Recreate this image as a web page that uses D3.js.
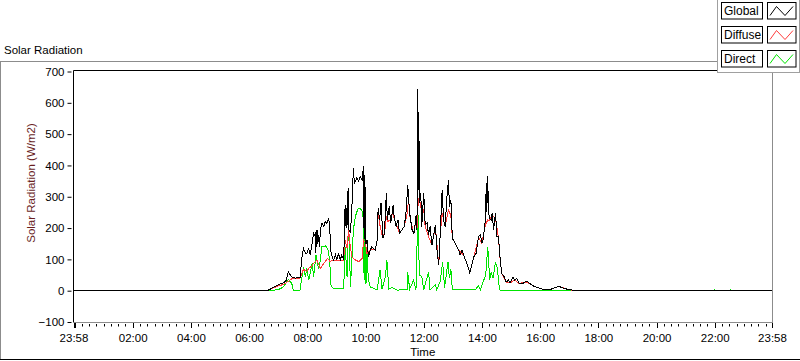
<!DOCTYPE html>
<html>
<head>
<meta charset="utf-8">
<script src="https://cdn.jsdelivr.net/npm/d3@7"></script>
<style>
  html, body { margin: 0; padding: 0; background: #fff; }
  svg { display: block; }
  text { font-family: "Liberation Sans", Arial, sans-serif; }
</style>
</head>
<body>
<svg id="chart" width="800" height="361"></svg>
<script>
// ---- Data (time in minutes since midnight, value in W/m2) ----
const globalTime = [-2,397,405,412,420,425,431,436,441,444,448,455,460,465,469,472,476,479,483,486,490,493,496,497,498,499,500,501,503,505,507,510,514,517,520,524,526,529,534,538,541,544,548,551,555,558,560,562,563,564,566,569,572,575,577,579,582,586,589,593,596,597,598,599,600,601,603,606,610,613,620,624,626,629,632,636,639,643,645,649,652,657,659,663,667,670,675,680,684,687,691,696,700,704,706,707,708,709,710,711,714,716,720,723,727,730,733,737,740,744,747,751,754,758,761,764,768,771,773,776,779,785,792,795,799,802,809,815,818,823,828,833,837,840,843,847,849,850,852,853,855,859,861,864,868,871,874,878,881,886,890,895,898,904,907,912,917,923,929,934,940,947,954,964,981,991,998,1005,1015,1026,1029,1438];
const globalValue = [0,0,6,12,18,22,25,32,60,52,44,40,41,42,108,135,120,119,135,114,151,183,173,120,190,140,194,150,178,140,194,215,205,221,215,232,205,120,98,114,98,120,98,114,98,274,200,269,210,328,194,184,269,392,340,349,360,349,365,354,397,180,370,160,330,150,162,108,130,140,130,162,264,226,280,167,183,312,226,269,215,274,237,205,226,183,194,205,258,338,248,194,183,237,194,450,643,320,560,280,312,205,312,210,215,178,205,146,173,210,135,82,183,322,226,205,301,354,269,290,167,151,130,114,130,114,87,57,76,108,119,173,178,151,167,226,344,250,365,280,232,226,248,194,248,173,173,92,55,44,28,34,25,44,34,39,23,21,28,30,21,14,10,5,4,10,14,10,5,2,0,0];

const diffuseTime = [-2,397,405,412,420,431,441,448,465,469,472,479,483,490,493,500,503,507,514,522,527,534,545,555,558,562,565,568,572,579,586,593,596,600,603,610,620,624,626,629,634,639,643,645,651,657,659,665,670,675,680,686,689,691,699,704,706,709,713,716,720,723,730,737,744,751,754,758,764,771,776,779,785,792,802,809,815,823,833,840,847,852,855,861,868,874,878,881,890,898,907,917,929,940,954,964,981,998,1015,1029,1438];
const diffuseValue = [0,0,5,10,15,20,30,38,40,55,68,62,71,80,87,98,85,71,87,103,93,98,95,98,162,135,194,150,108,98,93,103,162,152,119,130,130,160,248,215,178,180,237,220,226,250,230,205,183,194,205,248,296,240,183,220,194,296,280,248,260,205,173,146,205,82,180,248,205,258,240,167,151,130,114,87,57,108,170,151,210,226,225,240,230,170,92,55,28,25,34,23,28,21,10,5,4,14,5,0,0];

const directTime = [-2,399,420,431,441,448,451,465,469,472,476,479,483,490,493,498,503,507,510,517,522,526,529,534,555,558,562,565,569,575,579,584,589,593,596,597,598,599,600,601,603,606,610,624,630,634,641,644,648,655,665,686,687,691,699,704,708,711,716,720,730,733,744,747,754,759,763,770,773,776,779,826,833,837,843,848,852,856,859,863,868,872,876,879,1318,1319,1320,1352,1353,1354,1438];
const directValue = [0,0,3,12,36,23,2,2,44,76,44,71,34,87,44,114,71,98,140,143,135,98,14,7,7,140,44,226,12,194,237,260,264,253,226,40,200,30,150,20,119,34,12,3,66,5,44,98,5,10,2,3,60,5,34,3,258,50,45,3,60,3,20,3,30,92,10,92,40,68,3,3,15,3,30,52,140,35,60,40,92,70,5,0,0,3,0,0,3,0,0];

const seriesNames = ["Global", "Diffuse", "Direct"];
const seriesColors = ["#000000", "#ff3c3c", "#00e400"];

const xTickValues = [-2,120,240,360,480,600,720,840,960,1080,1200,1320,1438];
const xTickLabels = ["23:58","02:00","04:00","06:00","08:00","10:00","12:00","14:00","16:00","18:00","20:00","22:00","23:58"];
const yTickValues = [-100,0,100,200,300,400,500,600,700];

// ---- Drawing ----
const svg = d3.select("#chart");
const W = 800, H = 361;
const plot = { left: 73.5, right: 772, top: 71.5, bottom: 322 };

const x = d3.scaleLinear().domain([-2, 1438]).range([plot.left, plot.right]);
const y = d3.scaleLinear().domain([-100, 700]).range([plot.bottom, plot.top]);

svg.append("rect").attr("width", W).attr("height", H).attr("fill", "#fff");

// outer frame
svg.append("line").attr("x1", 0.5).attr("x2", 0.5).attr("y1", 61.5).attr("y2", 360).attr("stroke", "#8c8c8c");
svg.append("line").attr("x1", 0).attr("x2", 720).attr("y1", 61.5).attr("y2", 61.5).attr("stroke", "#8c8c8c");
svg.append("line").attr("x1", 0).attr("x2", 800).attr("y1", 359.5).attr("y2", 359.5).attr("stroke", "#000");

// chart title
svg.append("text").attr("x", 4).attr("y", 54).attr("font-size", 11.5).attr("fill", "#000").text("Solar Radiation");

// plot area borders
svg.append("line").attr("x1", plot.left).attr("x2", plot.right).attr("y1", plot.top - 1).attr("y2", plot.top - 1).attr("stroke", "#000");
svg.append("line").attr("x1", plot.right + 0.5).attr("x2", plot.right + 0.5).attr("y1", plot.top - 1).attr("y2", plot.bottom).attr("stroke", "#8c8c8c");

const clip = svg.append("clipPath").attr("id", "clip").append("rect")
  .attr("x", plot.left).attr("y", plot.top - 1).attr("width", plot.right - plot.left).attr("height", plot.bottom - plot.top + 1);

// series
const series = [
  { name: "Direct", t: directTime, v: directValue, color: seriesColors[2] },
  { name: "Diffuse", t: diffuseTime, v: diffuseValue, color: seriesColors[1] },
  { name: "Global", t: globalTime, v: globalValue, color: seriesColors[0] }
];
const line = d3.line().x(d => x(d[0])).y(d => y(d[1]));
const g = svg.append("g").attr("clip-path", "url(#clip)");
series.forEach(s => {
  const pts = s.t.map((t, i) => [t, s.v[i]]);
  g.append("path").datum(pts).attr("d", line).attr("fill", "none")
    .attr("stroke", s.color).attr("stroke-width", 1).attr("shape-rendering", "crispEdges");
});

// y axis
const yAxis = d3.axisLeft(y).tickValues(yTickValues).tickSize(4).tickPadding(3).tickFormat(d3.format("d"));
const yg = svg.append("g").attr("transform", `translate(${plot.left - 2},0)`).call(yAxis);
yg.select(".domain").remove();
yg.selectAll("text").attr("font-size", 11.5).attr("fill", "#000").attr("font-family", "Liberation Sans, Arial, sans-serif");
yg.selectAll(".tick line").attr("stroke", "#000");
svg.append("line").attr("x1", plot.left).attr("x2", plot.left).attr("y1", plot.top - 1).attr("y2", plot.bottom + 0.5).attr("stroke", "#000");

// y title
svg.append("text").attr("transform", `translate(35,183) rotate(-90)`).attr("text-anchor", "middle")
  .attr("font-size", 11.5).attr("fill", "#6a1f1f").text("Solar Radiation (W/m2)");

// x axis
svg.append("line").attr("x1", plot.left).attr("x2", plot.right + 1).attr("y1", plot.bottom + 0.5).attr("y2", plot.bottom + 0.5).attr("stroke", "#8c8c8c");
const xAxis = d3.axisBottom(x).tickValues(xTickValues).tickSize(5).tickPadding(6)
  .tickFormat((d, i) => xTickLabels[i]);
const xg = svg.append("g").attr("transform", `translate(0,${plot.bottom + 1})`).call(xAxis);
xg.select(".domain").remove();
xg.selectAll("text").attr("font-size", 11.5).attr("fill", "#000").attr("font-family", "Liberation Sans, Arial, sans-serif");
xg.selectAll(".tick line").attr("stroke", "#000").attr("shape-rendering", "crispEdges");
xg.selectAll(".tick").filter((d, i) => i === 0).select("line").attr("stroke-width", 2).attr("transform", "translate(1,0)");

// minor ticks every 15 min
const minor = d3.range(15, 1438, 15).filter(m => m % 120 !== 0);
svg.append("g").selectAll("line").data(minor).join("line")
  .attr("x1", d => Math.round(x(d)) + 0.5).attr("x2", d => Math.round(x(d)) + 0.5)
  .attr("y1", plot.bottom + 2).attr("y2", plot.bottom + 4.5).attr("stroke", "#000");

svg.append("text").attr("x", (plot.left + plot.right) / 2).attr("y", 356).attr("text-anchor", "middle")
  .attr("font-size", 11.5).attr("fill", "#000").text("Time");

// legend
const lg = svg.append("g");
lg.append("rect").attr("x", 717.5).attr("y", -1).attr("width", 82).attr("height", 73.5)
  .attr("fill", "#fff").attr("stroke", "#a0a0a0");
seriesNames.forEach((name, i) => {
  const ry = 2.5 + i * 24;
  lg.append("rect").attr("x", 721.5).attr("y", ry).attr("width", 41).attr("height", 16.5)
    .attr("fill", "#fff").attr("stroke", "#000");
  lg.append("text").attr("x", 724).attr("y", ry + 12.5).attr("font-size", 12).attr("fill", "#000").text(name);
  lg.append("rect").attr("x", 767.5).attr("y", ry).attr("width", 28.5).attr("height", 16.5)
    .attr("fill", "#fff").attr("stroke", "#000");
  lg.append("path").attr("d", `M${770},${ry + 13} L${776.5},${ry + 4} L${785},${ry + 13} L${793},${ry + 4}`)
    .attr("fill", "none").attr("stroke", seriesColors[i]);
});
</script>
</body>
</html>
